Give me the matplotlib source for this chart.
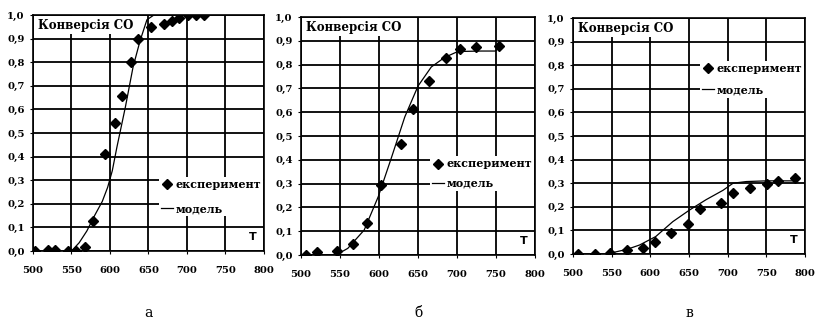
import matplotlib
matplotlib.use("Agg")
import matplotlib.pyplot as plt
from matplotlib.lines import Line2D
from matplotlib.ticker import FuncFormatter, MultipleLocator

plt.rcParams['font.family'] = ['DejaVu Serif']

# --- panel а ---
TA_EXP = [503, 519, 529, 546, 556, 567, 578, 594, 606, 616, 627, 637, 653, 670, 680, 690, 701, 712, 722]
XA_EXP = [0.0, 0.003, 0.003, 0.0, 0.0, 0.017, 0.127, 0.41, 0.543, 0.658, 0.80, 0.897, 0.95, 0.96, 0.976, 0.989, 1.0, 1.0, 1.0]
TA_MOD = [550, 560, 570, 580, 590, 597, 603, 609, 620, 630, 639, 648, 657, 700, 722]
XA_MOD = [0.0, 0.035, 0.085, 0.15, 0.21, 0.27, 0.34, 0.44, 0.61, 0.78, 0.89, 0.98, 1.0, 1.0, 1.0]

# --- panel б ---
TB_EXP = [507, 521, 546, 566, 584, 603, 628, 643, 664, 686, 704, 724, 754]
XB_EXP = [0.0, 0.011, 0.018, 0.046, 0.136, 0.294, 0.466, 0.613, 0.733, 0.828, 0.866, 0.874, 0.878]
TB_MOD = [500, 530, 545, 560, 581, 599, 616, 633, 650, 667, 684, 701, 731, 749, 757]
XB_MOD = [0.0, 0.0, 0.0, 0.028, 0.105, 0.245, 0.41, 0.58, 0.71, 0.79, 0.83, 0.855, 0.857, 0.857, 0.88]

# --- panel в ---
TC_EXP = [506, 528, 548, 570, 590, 606, 627, 649, 664, 692, 707, 729, 751, 765, 787]
XC_EXP = [0.0, 0.0, 0.003, 0.017, 0.024, 0.052, 0.088, 0.127, 0.192, 0.215, 0.257, 0.281, 0.298, 0.31, 0.321]
TC_MOD = [550, 570, 586, 607, 629, 651, 672, 694, 707, 724, 750, 790]
XC_MOD = [0.005, 0.02, 0.038, 0.074, 0.137, 0.187, 0.23, 0.27, 0.30, 0.307, 0.31, 0.31]

# (data..., letter, axes position, legend centre y, legend row spacing)
PANELS = [
    (TA_EXP, XA_EXP, TA_MOD, XA_MOD, "а", [0.0404, 0.2324, 0.2831, 0.7216], 0.23, 1.15),
    (TB_EXP, XB_EXP, TB_MOD, XB_MOD, "б", [0.3689, 0.2202, 0.2868, 0.7278], 0.342, 0.75),
    (TC_EXP, XC_EXP, TC_MOD, XC_MOD, "в", [0.7022, 0.2232, 0.2843, 0.7217], 0.74, 0.9),
]

fig = plt.figure(figsize=(8.16, 3.27), dpi=100)

comma = FuncFormatter(lambda v, p: ("%.1f" % v).replace(".", ","))

for t_exp, x_exp, t_mod, x_mod, letter, pos, leg_y, leg_sp in PANELS:
    ax = fig.add_axes(pos)
    ax.plot(t_mod, x_mod, color="black", lw=0.9, zorder=3)
    ax.plot(t_exp, x_exp, linestyle="none", marker="D", color="black",
            markersize=5.5, zorder=4)
    ax.set_xlim(500, 800)
    ax.set_ylim(0, 1.0)
    ax.xaxis.set_major_locator(MultipleLocator(50))
    ax.yaxis.set_major_locator(MultipleLocator(0.1))
    ax.yaxis.set_major_formatter(comma)
    ax.grid(True, color="black", lw=1.3)
    ax.set_axisbelow(True)
    for s in ax.spines.values():
        s.set_color("black")
        s.set_linewidth(1.2)
    ax.tick_params(labelsize=7.2, length=2, width=0.8)
    ax.tick_params(axis="x", pad=9)
    ax.tick_params(axis="y", pad=4)
    for lab in ax.get_xticklabels() + ax.get_yticklabels():
        lab.set_fontweight("bold")

    ax.text(0.02, 0.985, "Конверсія СО", transform=ax.transAxes,
            fontsize=8.5, fontweight="bold", va="top", ha="left", zorder=6,
            bbox=dict(facecolor="white", edgecolor="none", pad=1.5))
    ax.text(0.935, 0.045, "T", transform=ax.transAxes, fontsize=8,
            fontweight="bold", family="DejaVu Sans", zorder=6,
            bbox=dict(facecolor="white", edgecolor="none", pad=0.5))

    handles = [Line2D([], [], linestyle="none", marker="D", color="black", markersize=5.5),
               Line2D([], [], color="black", lw=0.9)]
    leg = ax.legend(handles, ["експеримент", "модель"], loc="center right",
                    bbox_to_anchor=(1.0, leg_y), frameon=True, fancybox=False,
                    edgecolor="none", framealpha=1.0, borderpad=0.2,
                    handlelength=1.1, handletextpad=0.2, labelspacing=leg_sp,
                    borderaxespad=0.05, prop={"size": 8, "weight": "bold"})
    leg.set_zorder(7)

    fig.text(pos[0] + pos[2] / 2, 0.02, letter, ha="center", va="bottom",
             fontsize=10)

fig.savefig("out.png", dpi=100)
